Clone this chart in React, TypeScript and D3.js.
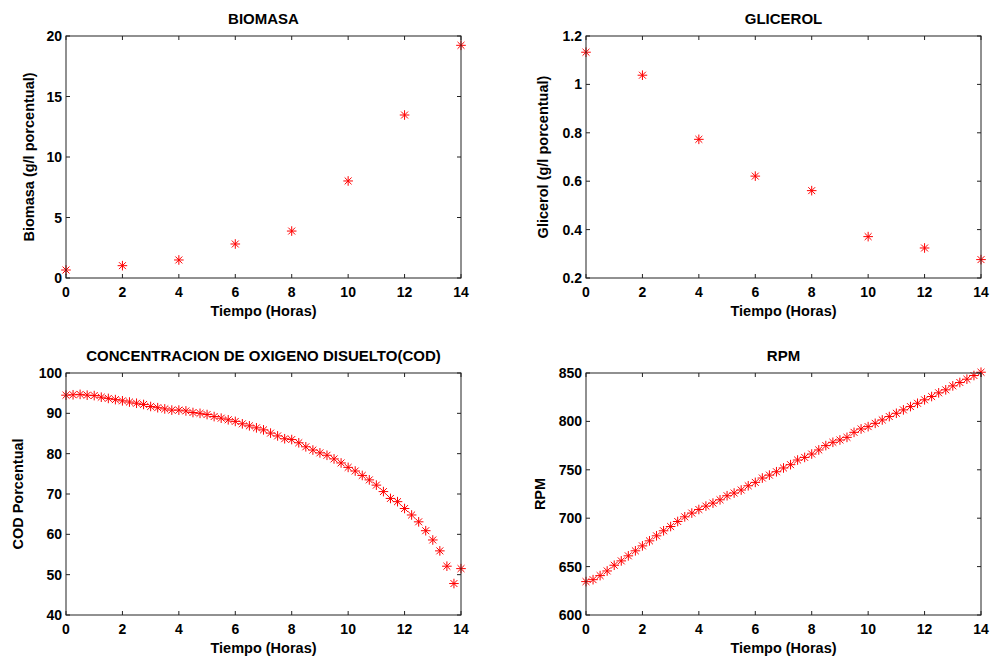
import React from "react";
import * as d3 from "d3";

// ---------- data ----------
const hoursSparse = [0, 2, 4, 6, 8, 10, 12, 14];
const biomasa = [0.66, 1.02, 1.49, 2.81, 3.88, 8.02, 13.47, 19.23];
const glicerol = [1.133, 1.038, 0.773, 0.621, 0.561, 0.371, 0.324, 0.276];

const hoursDense = [
  0, 0.25, 0.5, 0.75, 1, 1.25, 1.5, 1.75, 2, 2.25, 2.5, 2.75, 3, 3.25, 3.5, 3.75,
  4, 4.25, 4.5, 4.75, 5, 5.25, 5.5, 5.75, 6, 6.25, 6.5, 6.75, 7, 7.25, 7.5, 7.75,
  8, 8.25, 8.5, 8.75, 9, 9.25, 9.5, 9.75, 10, 10.25, 10.5, 10.75, 11, 11.25, 11.5, 11.75,
  12, 12.25, 12.5, 12.75, 13, 13.25, 13.5, 13.75, 14,
];
const cod = [
  94.5, 94.6, 94.7, 94.5, 94.4, 94.0, 93.7, 93.4, 93.1, 92.8, 92.5, 92.2, 91.7, 91.4, 91.1, 90.8,
  90.8, 90.6, 90.2, 90.0, 89.7, 89.2, 88.8, 88.4, 88.0, 87.4, 86.9, 86.4, 85.9, 85.1, 84.4, 83.7,
  83.5, 82.7, 81.7, 80.9, 80.2, 79.6, 78.7, 77.7, 76.6, 75.7, 74.6, 73.5, 72.2, 70.6, 68.9, 68.1,
  66.4, 64.8, 63.1, 60.9, 58.6, 55.9, 52.1, 47.8, 51.5,
];
const rpm = [
  634.5, 636.5, 640.7, 645.5, 651.4, 655.9, 661.1, 666.3, 671.4, 676.6, 681.8, 687.0, 691.4, 696.6, 701.4, 705.3,
  709.0, 712.5, 715.6, 719.0, 723.2, 726.0, 729.1, 733.5, 737.0, 741.5, 744.5, 748.0, 751.9, 755.3, 760.1, 762.8,
  766.3, 770.5, 775.0, 778.4, 780.8, 783.5, 788.7, 792.2, 794.6, 798.0, 801.5, 805.0, 808.4, 811.9, 815.3, 818.7,
  822.3, 825.7, 829.5, 832.6, 836.7, 840.2, 843.6, 847.4, 850.8,
];

const xTicks = [0, 2, 4, 6, 8, 10, 12, 14];
const biomasaTicks = [0, 5, 10, 15, 20];
const glicerolTicks = [0.2, 0.4, 0.6, 0.8, 1, 1.2];
const codTicks = [40, 50, 60, 70, 80, 90, 100];
const rpmTicks = [600, 650, 700, 750, 800, 850];

const titles = ["BIOMASA", "GLICEROL", "CONCENTRACION DE OXIGENO DISUELTO(COD)", "RPM"];
const yLabels = ["Biomasa (g/l porcentual)", "Glicerol (g/l porcentual)", "COD Porcentual", "RPM"];
const xLabel = "Tiempo (Horas)";

// ---------- layout ----------
const FONT = "'Liberation Sans', Arial, Helvetica, sans-serif";

interface PanelDef {
  left: number; top: number; width: number; height: number;
  xs: number[]; ys: number[]; yDomain: [number, number]; yTicks: number[];
  title: string; yLabel: string; yLabelX: number;
}

const panels: PanelDef[] = [
  { left: 66, top: 36, width: 395, height: 242, xs: hoursSparse, ys: biomasa, yDomain: [0, 20], yTicks: biomasaTicks, title: titles[0], yLabel: yLabels[0], yLabelX: 29 },
  { left: 586, top: 36, width: 395, height: 242, xs: hoursSparse, ys: glicerol, yDomain: [0.2, 1.2], yTicks: glicerolTicks, title: titles[1], yLabel: yLabels[1], yLabelX: 543 },
  { left: 66, top: 373, width: 395, height: 242, xs: hoursDense, ys: cod, yDomain: [40, 100], yTicks: codTicks, title: titles[2], yLabel: yLabels[2], yLabelX: 18 },
  { left: 586, top: 373, width: 395, height: 242, xs: hoursDense, ys: rpm, yDomain: [600, 850], yTicks: rpmTicks, title: titles[3], yLabel: yLabels[3], yLabelX: 540 },
];

function Star({ x, y }: { x: number; y: number }) {
  const r = 4.8;
  const d = r * 0.72;
  return (
    <g stroke="#ff0000" strokeWidth={1}>
      <line x1={x - r} y1={y} x2={x + r} y2={y} />
      <line x1={x} y1={y - r} x2={x} y2={y + r} />
      <line x1={x - d} y1={y - d} x2={x + d} y2={y + d} />
      <line x1={x - d} y1={y + d} x2={x + d} y2={y - d} />
    </g>
  );
}

function Panel({ p }: { p: PanelDef }) {
  const x = d3.scaleLinear().domain([0, 14]).range([p.left, p.left + p.width]);
  const y = d3.scaleLinear().domain(p.yDomain).range([p.top + p.height, p.top]);
  const bottom = p.top + p.height;
  const right = p.left + p.width;
  const tl = 4;
  const fmt = (v: number) => String(+v.toFixed(2));
  return (
    <g fontFamily={FONT}>
      {/* data */}
      {p.xs.map((xv, i) => (
        <Star key={i} x={x(xv)} y={y(p.ys[i])} />
      ))}
      {/* box */}
      <rect x={p.left} y={p.top} width={p.width} height={p.height} fill="none" stroke="#222" strokeWidth={1} />
      {/* x ticks */}
      {xTicks.map((t) => (
        <g key={"x" + t}>
          <line x1={x(t)} x2={x(t)} y1={bottom} y2={bottom - tl} stroke="#222" />
          <line x1={x(t)} x2={x(t)} y1={p.top} y2={p.top + tl} stroke="#222" />
          <text x={x(t)} y={bottom + 19} fontSize={14} fontWeight="bold" textAnchor="middle" fill="#000">
            {t}
          </text>
        </g>
      ))}
      {/* y ticks */}
      {p.yTicks.map((t) => (
        <g key={"y" + t}>
          <line x1={p.left} x2={p.left + tl} y1={y(t)} y2={y(t)} stroke="#222" />
          <line x1={right} x2={right - tl} y1={y(t)} y2={y(t)} stroke="#222" />
          <text x={p.left - 4} y={y(t) + 5} fontSize={14} fontWeight="bold" textAnchor="end" fill="#000">
            {fmt(t)}
          </text>
        </g>
      ))}
      {/* title */}
      <text x={p.left + p.width / 2} y={p.top - 12} fontSize={15} fontWeight="bold" textAnchor="middle" fill="#000">
        {p.title}
      </text>
      {/* x label */}
      <text x={p.left + p.width / 2} y={bottom + 38} fontSize={14.5} fontWeight="bold" textAnchor="middle" fill="#000">
        {xLabel}
      </text>
      {/* y label */}
      <text
        transform={`translate(${p.yLabelX},${p.top + p.height / 2}) rotate(-90)`}
        fontSize={14.5}
        fontWeight="bold"
        textAnchor="middle"
        dominantBaseline="central"
        fill="#000"
      >
        {p.yLabel}
      </text>
    </g>
  );
}

export default function App() {
  return (
    <svg
      width={990}
      height={656}
      style={{ position: "absolute", left: 0, top: 0, background: "#fff" }}
    >
      <rect width={990} height={656} fill="#fff" />
      {panels.map((p, i) => (
        <Panel key={i} p={p} />
      ))}
    </svg>
  );
}
